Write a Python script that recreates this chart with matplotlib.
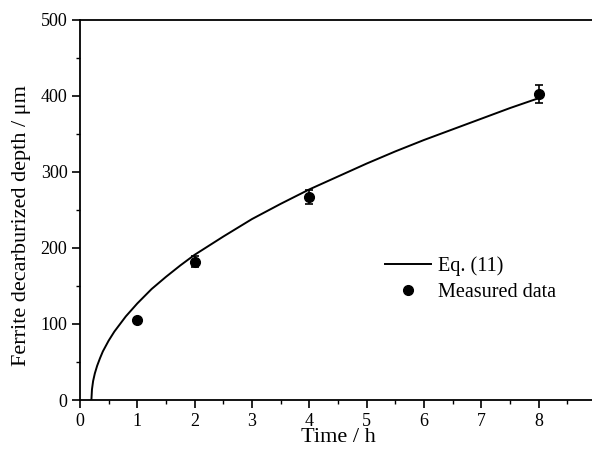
import matplotlib
matplotlib.use("Agg")
import matplotlib.pyplot as plt
from matplotlib.lines import Line2D
from matplotlib.ticker import MultipleLocator

plt.rcParams['font.family'] = ['Liberation Serif', 'DejaVu Serif']

# measured decarburized depth with error bars
time_h = [1, 2, 4, 8]
depth_um = [105, 182, 267, 402]
depth_err = [3, 7, 9, 12]

# Eq. (11) curve
curve_t = [0.2, 0.21, 0.23, 0.26, 0.3, 0.35, 0.4, 0.5, 0.6, 0.7, 0.8, 1.0,
           1.25, 1.5, 1.75, 2.0, 2.5, 3.0, 3.5, 4.0, 4.5, 5.0, 5.5, 6.0,
           6.5, 7.0, 7.5, 8.0]
curve_d = [0, 14, 25, 35, 45, 55, 64, 78, 90, 100, 110, 127,
           146, 162, 177, 191, 215, 238, 258, 277, 294, 311, 327, 342,
           356, 370, 384, 397]

fig = plt.figure(figsize=(5.92, 4.5), dpi=100)
ax = fig.add_axes([0.135, 0.111, 0.872, 0.845])

ax.plot(curve_t, curve_d, color="black", lw=1.4)
ax.errorbar(time_h, depth_um, yerr=depth_err, fmt="o", color="black",
            ms=7, capsize=3, elinewidth=1.2, capthick=1.2)

ax.set_xlim(0, 9)
ax.set_ylim(0, 500)
ax.xaxis.set_major_locator(MultipleLocator(1))
ax.xaxis.set_minor_locator(MultipleLocator(0.5))
ax.yaxis.set_major_locator(MultipleLocator(100))
ax.yaxis.set_minor_locator(MultipleLocator(50))
ax.tick_params(which="major", length=6, width=1.2, labelsize=13, direction="out", pad=3)
ax.tick_params(which="minor", length=3, width=1.0, direction="out")
for s in ax.spines.values():
    s.set_linewidth(1.3)

ax.set_xlabel("Time / h", fontsize=16, labelpad=-1)
ax.set_ylabel("Ferrite decarburized depth / μm", fontsize=16)
ax.yaxis.set_label_coords(-0.095, 0.46)  # sits a bit below centre in the original

# legend handles without error bars, as in the figure
handles = [Line2D([], [], color="black", lw=1.4),
           Line2D([], [], color="black", marker="o", ms=7, ls="none")]
ax.legend(handles, ["Eq. (11)", "Measured data"], loc="upper left",
          bbox_to_anchor=(0.555, 0.425), frameon=False, fontsize=14.5,
          handlelength=2.3, handletextpad=0.35, labelspacing=0.35)

fig.savefig("out.png", dpi=100)
plt.close()
